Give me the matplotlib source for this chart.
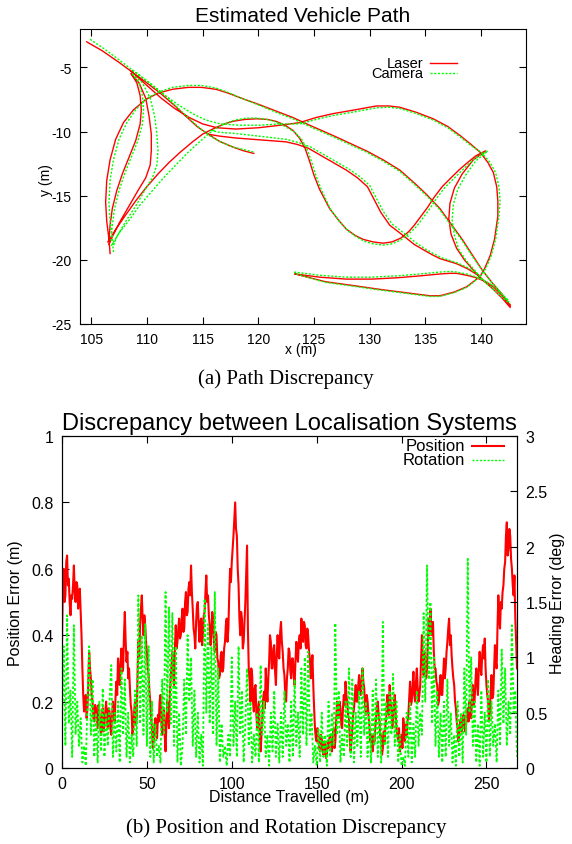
import numpy as np
import matplotlib.pyplot as plt
from matplotlib.lines import Line2D

plt.rcParams['font.family'] = ['Liberation Sans', 'DejaVu Sans']
plt.rcParams['axes.unicode_minus'] = False

nan = float('nan')

# ---- (a) estimated vehicle path, segments split by nan ----
laser_x = [104.6, 106.0, 107.5, 108.6, 110.0, 111.2, 112.4, 113.5, 114.5, 115.5, 116.5, 117.7, 118.7, 119.6, nan,
           108.6, 110.0, 111.3, 112.5, 113.8, 115.0, 116.3, 118.0, 120.0, 122.0, 123.7, 125.2, 126.7, 128.7, 130.6,
           131.7, 132.7, 134.2, 135.7, 137.0, 138.1, 139.1, 139.9, 140.6, 141.1, 141.4, 141.5, 141.5, 141.2, 140.8,
           140.3, 139.9, 139.3, 138.7, 137.6, 136.3, 135.4, 134.5, 132.7, 130.9, 128.5, 126.0, 123.3, nan,
           108.6, 109.1, 109.4, 109.5, 109.4, 109.0, 108.4, 107.8, 107.3, 106.9, 106.7, 106.6, nan,
           108.6, 109.3, 109.9, 110.2, 110.4, 110.4, 110.3, 109.9, 109.2, 108.4, 107.6, 106.9, 106.6, nan,
           106.7, 106.6, 106.4, 106.3, 106.4, 106.7, 107.2, 107.9, 108.8, 109.9, 111.0, 112.3, 113.7, 114.9, 116.2,
           117.3, 118.5, 120.1, 121.6, 123.1, 124.6, 126.7, 128.2, 129.7, 131.2, 132.7, 134.0, 135.1, 136.3, 137.3,
           138.3, 139.2, 140.1, 141.0, 141.9, 142.6, nan,
           106.5, 107.3, 108.1, 109.0, 109.9, 111.0, 112.0, 113.0, 114.1, 115.0, 115.9, 116.8, 117.7, 118.8, 119.9,
           120.8, 121.6, 122.4, 123.1, 123.7, 124.2, 124.6, 125.0, 125.5, 126.4, 127.2, 127.9, 128.7, 129.4, 130.3,
           131.2, 132.0, 132.8, 133.5, 134.0, 134.6, 135.2, 135.8, 136.5, 137.3, 138.0, 138.8, 139.5, 140.4, 139.3,
           138.3, 137.6, 137.2, 137.1, 137.3, 137.8, 138.5, 139.3, 140.2, 141.1, 141.9, 142.6, nan,
           115.5, 116.5, 118.0, 119.5, 121.0, 122.5, 123.5, 124.5, 125.5, 126.7, 127.9, 128.9, 129.8, 130.4, 131.0,
           131.8, 133.0, 134.0, 134.8, 135.6, 136.3, 137.8, 138.8, 139.9, nan,
           123.3, 125.5, 127.9, 130.2, 132.4, 134.5, 136.3, 137.2, 137.8, 138.7, 139.6, 140.4, 141.1, 141.8, 142.6]
laser_y = [-3.0, -3.7, -4.6, -5.3, -6.2, -7.0, -7.9, -8.8, -9.6, -10.2, -10.75, -11.2, -11.5, -11.7, nan,
           -5.3, -6.4, -7.4, -8.2, -8.9, -9.4, -9.7, -9.8, -9.7, -9.5, -9.3, -8.9, -8.6, -8.3, -8.0,
           -8.0, -8.1, -8.5, -9.0, -9.6, -10.3, -11.0, -11.6, -12.4, -13.2, -14.3, -15.4, -16.6, -18.4, -19.7,
           -20.7, -21.3, -21.7, -22.1, -22.5, -22.8, -22.8, -22.7, -22.5, -22.3, -22.0, -21.7, -21.1, nan,
           -5.5, -6.2, -7.2, -8.3, -9.4, -10.7, -12.0, -13.3, -14.6, -16.0, -17.3, -18.5, nan,
           -5.5, -6.2, -7.4, -8.8, -10.2, -11.5, -12.6, -13.6, -14.6, -15.8, -17.0, -18.2, -18.8, nan,
           -19.5, -18.4, -17.0, -15.5, -13.8, -12.2, -10.6, -9.3, -8.3, -7.5, -7.0, -6.7, -6.55, -6.55, -6.7,
           -7.0, -7.4, -7.9, -8.4, -8.9, -9.5, -10.3, -10.9, -11.5, -12.2, -13.0, -14.0, -14.9, -16.0, -17.2,
           -18.4, -19.6, -20.8, -21.8, -22.7, -23.6, nan,
           -18.6, -17.5, -16.5, -15.4, -14.4, -13.3, -12.4, -11.6, -10.8, -10.2, -9.8, -9.45, -9.2, -9.05, -9.0,
           -9.05, -9.2, -9.5, -9.9, -10.5, -11.3, -12.3, -13.4, -14.5, -16.0, -16.9, -17.6, -18.1, -18.4, -18.6,
           -18.7, -18.6, -18.3, -17.8, -17.3, -16.6, -15.9, -15.1, -14.3, -13.6, -13.0, -12.4, -11.9, -11.5, -12.2,
           -13.3, -14.4, -15.6, -16.8, -18.0, -19.1, -20.0, -20.8, -21.6, -22.3, -23.0, -23.7, nan,
           -10.2, -10.35, -10.5, -10.6, -10.7, -10.8, -11.0, -11.3, -11.8, -12.4, -13.0, -13.6, -14.3, -15.3, -16.3,
           -17.3, -18.1, -18.8, -19.2, -19.6, -19.9, -20.3, -20.7, -21.3, nan,
           -21.1, -21.35, -21.5, -21.5, -21.4, -21.25, -21.1, -21.05, -21.05, -21.2, -21.4, -21.7, -22.1, -22.7, -23.5]

camera_x = [104.9, 106.1, 107.5, 108.7, 110.1, 111.4, 112.6, 113.7, 114.7, 115.6, 116.6, 117.7, 118.7, 119.6, nan,
            108.7, 110.2, 111.5, 112.8, 114.1, 115.3, 116.6, 118.2, 120.1, 122.0, 123.7, 125.2, 126.7, 128.7, 130.6,
            131.7, 132.7, 134.2, 135.7, 137.0, 138.1, 139.1, 140.0, 140.8, 141.3, 141.6, 141.7, 141.6, 141.3, 140.9,
            140.4, 139.9, 139.3, 138.7, 137.6, 136.3, 135.4, 134.5, 132.7, 130.9, 128.5, 126.0, 123.2, nan,
            108.7, 109.3, 109.6, 109.7, 109.6, 109.2, 108.6, 108.0, 107.5, 107.1, 106.9, 106.8, nan,
            108.7, 109.6, 110.3, 110.7, 110.9, 111.0, 110.9, 110.5, 109.8, 109.0, 108.1, 107.3, 107.0, nan,
            107.0, 106.9, 106.7, 106.6, 106.7, 107.0, 107.5, 108.2, 109.0, 110.0, 111.1, 112.3, 113.7, 114.9, 116.2,
            117.3, 118.5, 120.1, 121.6, 123.1, 124.6, 126.7, 128.2, 129.7, 131.2, 132.7, 134.0, 135.1, 136.3, 137.3,
            138.3, 139.2, 140.1, 141.0, 141.8, 142.5, nan,
            106.8, 107.6, 108.5, 109.4, 110.4, 111.5, 112.6, 113.6, 114.6, 115.5, 116.3, 117.1, 117.9, 118.9, 119.9,
            120.8, 121.6, 122.4, 123.2, 123.9, 124.4, 124.8, 125.2, 125.7, 126.5, 127.3, 128.0, 128.8, 129.5, 130.3,
            131.2, 132.0, 132.8, 133.6, 134.2, 134.8, 135.4, 136.0, 136.7, 137.5, 138.2, 138.9, 139.6, 140.6, 139.5,
            138.6, 137.9, 137.5, 137.4, 137.6, 138.0, 138.7, 139.5, 140.3, 141.2, 142.0, 142.6, nan,
            115.7, 116.5, 118.0, 119.5, 121.0, 122.5, 123.6, 124.7, 125.7, 126.9, 128.1, 129.1, 130.0, 130.6, 131.2,
            132.0, 133.2, 134.2, 135.0, 135.8, 136.5, 137.9, 138.9, 139.9, nan,
            123.2, 125.5, 127.9, 130.2, 132.4, 134.5, 136.3, 137.2, 137.8, 138.7, 139.6, 140.4, 141.1, 141.8, 142.5]
camera_y = [-2.8, -3.5, -4.4, -5.2, -6.1, -7.0, -8.0, -8.9, -9.7, -10.3, -10.8, -11.2, -11.4, -11.6, nan,
            -5.2, -6.2, -7.1, -7.9, -8.6, -9.1, -9.4, -9.5, -9.5, -9.4, -9.4, -9.05, -8.75, -8.45, -8.15,
            -8.1, -8.2, -8.6, -9.1, -9.7, -10.4, -11.1, -11.6, -12.4, -13.2, -14.3, -15.4, -16.6, -18.4, -19.7,
            -20.7, -21.3, -21.75, -22.15, -22.55, -22.85, -22.85, -22.75, -22.55, -22.35, -22.05, -21.75, -21.05, nan,
            -5.5, -6.2, -7.2, -8.3, -9.4, -10.7, -12.0, -13.3, -14.6, -16.0, -17.3, -18.5, nan,
            -5.5, -6.2, -7.4, -8.8, -10.2, -11.5, -12.6, -13.6, -14.6, -15.8, -17.0, -18.2, -18.9, nan,
            -19.4, -18.4, -17.0, -15.5, -13.8, -12.2, -10.6, -9.3, -8.3, -7.4, -6.9, -6.55, -6.4, -6.4, -6.6,
            -6.95, -7.4, -7.95, -8.5, -9.0, -9.6, -10.4, -11.0, -11.6, -12.3, -13.1, -14.1, -15.0, -16.1, -17.3,
            -18.5, -19.7, -20.8, -21.8, -22.6, -23.3, nan,
            -18.9, -17.8, -16.8, -15.7, -14.7, -13.6, -12.6, -11.7, -10.9, -10.2, -9.7, -9.35, -9.1, -8.95, -8.95,
            -9.05, -9.25, -9.6, -10.0, -10.6, -11.4, -12.4, -13.5, -14.6, -16.1, -17.0, -17.7, -18.2, -18.55, -18.75,
            -18.85, -18.75, -18.45, -17.9, -17.4, -16.7, -16.0, -15.2, -14.4, -13.7, -13.1, -12.5, -12.0, -11.5, -12.3,
            -13.4, -14.5, -15.7, -16.9, -18.1, -19.2, -20.1, -20.9, -21.7, -22.4, -23.0, -23.4, nan,
            -9.9, -10.05, -10.15, -10.3, -10.45, -10.6, -10.85, -11.2, -11.7, -12.3, -12.9, -13.5, -14.2, -15.2, -16.2,
            -17.2, -18.0, -18.7, -19.15, -19.55, -19.85, -20.25, -20.65, -21.25, nan,
            -20.95, -21.2, -21.35, -21.35, -21.25, -21.1, -20.95, -20.9, -20.95, -21.1, -21.35, -21.65, -22.05, -22.6, -23.2]

# ---- (b) discrepancy ----
# position error (m), one value every 0.5 m travelled
position_err = [
    0.38, 0.55, 0.6, 0.5, 0.52, 0.62, 0.64, 0.55, 0.57, 0.5, 0.46, 0.52, 0.51, 0.55, 0.61, 0.53, 0.5, 0.56, 0.55, 0.48,
    0.52, 0.54, 0.47, 0.4, 0.3, 0.22, 0.17, 0.2, 0.22, 0.15, 0.18, 0.26, 0.35, 0.3, 0.27, 0.22, 0.2, 0.15, 0.14, 0.19,
    0.18, 0.15, 0.12, 0.19, 0.17, 0.13, 0.1, 0.15, 0.18, 0.11, 0.13, 0.17, 0.2, 0.14, 0.12, 0.18, 0.17, 0.12, 0.1, 0.16,
    0.2, 0.16, 0.14, 0.21, 0.26, 0.22, 0.33, 0.28, 0.25, 0.32, 0.36, 0.29, 0.3, 0.4, 0.47, 0.38, 0.32, 0.35, 0.27, 0.3,
    0.24, 0.19, 0.17, 0.1, 0.12, 0.17, 0.2, 0.13, 0.15, 0.28, 0.38, 0.33, 0.43, 0.48, 0.52, 0.45, 0.4, 0.46, 0.43, 0.38,
    0.35, 0.3, 0.28, 0.23, 0.2, 0.15, 0.12, 0.06, 0.08, 0.13, 0.15, 0.1, 0.09, 0.16, 0.14, 0.2, 0.22, 0.14, 0.1, 0.15,
    0.18, 0.1, 0.05, 0.14, 0.2, 0.15, 0.12, 0.22, 0.27, 0.31, 0.35, 0.28, 0.25, 0.36, 0.43, 0.36, 0.38, 0.42, 0.45, 0.39,
    0.4, 0.45, 0.48, 0.41, 0.42, 0.5, 0.53, 0.46, 0.47, 0.54, 0.56, 0.52, 0.61, 0.53, 0.48, 0.42, 0.4, 0.36, 0.44, 0.49,
    0.5, 0.43, 0.38, 0.44, 0.45, 0.37, 0.4, 0.46, 0.47, 0.53, 0.58, 0.5, 0.52, 0.46, 0.43, 0.37, 0.4, 0.47, 0.45, 0.38,
    0.35, 0.41, 0.4, 0.33, 0.32, 0.27, 0.28, 0.34, 0.35, 0.29, 0.3, 0.36, 0.38, 0.43, 0.45, 0.38, 0.42, 0.52, 0.6, 0.56,
    0.62, 0.66, 0.7, 0.75, 0.8, 0.72, 0.7, 0.6, 0.55, 0.45, 0.4, 0.47, 0.45, 0.36, 0.38, 0.44, 0.5, 0.58, 0.67, 0.42,
    0.3, 0.26, 0.2, 0.3, 0.28, 0.2, 0.17, 0.24, 0.25, 0.16, 0.12, 0.18, 0.2, 0.1, 0.05, 0.1, 0.15, 0.21, 0.23, 0.18,
    0.3, 0.24, 0.2, 0.27, 0.32, 0.4, 0.38, 0.3, 0.3, 0.36, 0.37, 0.29, 0.25, 0.34, 0.4, 0.34, 0.33, 0.41, 0.44, 0.38,
    0.35, 0.3, 0.28, 0.22, 0.2, 0.27, 0.3, 0.36, 0.35, 0.29, 0.27, 0.33, 0.33, 0.28, 0.25, 0.32, 0.38, 0.34, 0.32, 0.38,
    0.4, 0.36, 0.45, 0.4, 0.38, 0.44, 0.43, 0.37, 0.36, 0.42, 0.4, 0.35, 0.33, 0.27, 0.3, 0.34, 0.25, 0.18, 0.12, 0.09,
    0.08, 0.12, 0.1, 0.06, 0.05, 0.1, 0.09, 0.05, 0.04, 0.08, 0.07, 0.03, 0.04, 0.08, 0.06, 0.09, 0.1, 0.07, 0.05, 0.09,
    0.12, 0.06, 0.08, 0.14, 0.2, 0.17, 0.15, 0.2, 0.18, 0.13, 0.12, 0.18, 0.22, 0.19, 0.26, 0.22, 0.2, 0.16, 0.15, 0.09,
    0.05, 0.08, 0.12, 0.16, 0.18, 0.22, 0.25, 0.2, 0.2, 0.25, 0.28, 0.23, 0.22, 0.27, 0.3, 0.26, 0.24, 0.19, 0.16, 0.22,
    0.2, 0.16, 0.13, 0.08, 0.1, 0.06, 0.05, 0.1, 0.08, 0.12, 0.15, 0.19, 0.2, 0.16, 0.14, 0.09, 0.1, 0.04, 0.06, 0.11,
    0.08, 0.13, 0.15, 0.22, 0.2, 0.16, 0.25, 0.2, 0.18, 0.12, 0.14, 0.2, 0.22, 0.17, 0.12, 0.1, 0.08, 0.12, 0.05, 0.09,
    0.1, 0.06, 0.15, 0.12, 0.08, 0.13, 0.1, 0.14, 0.16, 0.21, 0.26, 0.19, 0.2, 0.25, 0.29, 0.22, 0.2, 0.26, 0.3, 0.24,
    0.2, 0.22, 0.25, 0.33, 0.4, 0.32, 0.28, 0.35, 0.33, 0.27, 0.3, 0.38, 0.45, 0.4, 0.48, 0.42, 0.4, 0.44, 0.35, 0.3,
    0.3, 0.26, 0.25, 0.19, 0.2, 0.25, 0.28, 0.22, 0.22, 0.28, 0.33, 0.27, 0.3, 0.35, 0.38, 0.42, 0.45, 0.37, 0.4, 0.34,
    0.3, 0.27, 0.25, 0.2, 0.18, 0.14, 0.12, 0.08, 0.1, 0.14, 0.15, 0.11, 0.12, 0.16, 0.14, 0.11, 0.13, 0.16, 0.18, 0.14,
    0.2, 0.16, 0.15, 0.21, 0.25, 0.19, 0.2, 0.26, 0.3, 0.25, 0.22, 0.3, 0.35, 0.3, 0.28, 0.34, 0.37, 0.33, 0.39, 0.3,
    0.25, 0.22, 0.2, 0.14, 0.17, 0.23, 0.28, 0.21, 0.22, 0.3, 0.37, 0.32, 0.3, 0.42, 0.52, 0.45, 0.42, 0.5, 0.48, 0.53,
    0.55, 0.6, 0.62, 0.7, 0.74, 0.64, 0.66, 0.72, 0.7, 0.63, 0.6, 0.55, 0.52, 0.58, 0.45, 0.38, 0.3]

# heading error (deg), one value per metre travelled
rotation_err = [
    0.3, 1.1, 0.2, 1.38, 0.4, 0.7, 0.1, 1.29, 0.3, 0.6,
    0.2, 0.45, 0.05, 0.2, 0.02, 0.6, 1.1, 0.3, 0.8, 0.1,
    0.5, 0.05, 0.6, 0.15, 0.72, 0.1, 0.5, 0.2, 0.6, 0.93,
    0.1, 0.5, 0.15, 0.6, 0.05, 0.9, 0.3, 0.8, 0.1, 0.5,
    0.05, 0.3, 0.1, 0.7, 0.2, 1.56, 0.4, 1.2, 0.3, 1.3,
    0.2, 1.1, 0.1, 0.6, 0.05, 0.4, 0.1, 0.2, 0.05, 0.8,
    0.3, 1.59, 0.5, 1.45, 0.4, 1.4, 0.2, 1.1, 0.05, 0.5,
    0.02, 0.2, 0.8, 0.3, 1.2, 0.6, 1.0, 0.2, 0.7, 0.1,
    0.5, 0.05, 0.3, 0.02, 1.53, 0.5, 1.3, 0.4, 1.1, 0.3,
    1.59, 0.2, 0.9, 0.05, 0.4, 0.1, 0.2, 0.02, 0.3, 0.1,
    1.0, 0.2, 0.6, 0.1, 1.1, 0.3, 0.7, 0.05, 0.4, 0.9,
    0.2, 0.6, 0.05, 0.3, 0.1, 0.5, 0.05, 0.93, 0.3, 0.6,
    0.1, 0.3, 0.02, 0.5, 0.15, 0.7, 0.1, 0.4, 0.05, 0.5,
    0.1, 0.7, 0.2, 0.4, 0.05, 0.6, 0.1, 0.8, 0.2, 0.5,
    0.1, 0.9, 0.3, 1.0, 0.2, 1.05, 0.3, 0.5, 0.05, 0.2,
    0.02, 0.35, 0.05, 0.5, 0.1, 0.3, 0.02, 0.6, 0.1, 0.5,
    0.2, 1.31, 0.3, 0.7, 0.05, 0.3, 0.1, 0.6, 0.2, 0.9,
    0.1, 0.8, 0.05, 0.5, 0.2, 0.7, 0.1, 0.9, 0.3, 0.6,
    0.1, 0.5, 0.05, 0.7, 0.2, 0.8, 0.1, 0.5, 0.05, 1.32,
    0.2, 0.6, 0.1, 0.7, 0.3, 0.85, 0.2, 0.6, 0.05, 0.3,
    0.02, 0.1, 0.02, 0.5, 0.1, 0.6, 0.05, 0.4, 0.1, 0.7,
    0.2, 0.5, 0.3, 1.4, 0.6, 1.83, 0.8, 1.5, 0.4, 1.0,
    0.2, 0.7, 0.1, 0.5, 0.05, 0.6, 0.1, 0.8, 0.2, 0.5,
    0.05, 0.3, 0.02, 0.6, 0.1, 0.5, 0.05, 0.9, 0.3, 1.89,
    0.5, 1.0, 0.2, 0.6, 0.05, 0.4, 0.02, 0.7, 0.1, 0.5,
    0.05, 0.8, 0.1, 0.6, 0.2, 0.4, 0.05, 0.7, 0.2, 1.07,
    0.4, 0.9, 0.2, 0.6, 0.3, 1.29, 0.5, 0.7, 0.1]

pos_distance = np.arange(len(position_err)) * 0.5
rot_distance = np.arange(len(rotation_err))

RED = '#ff0000'
GREEN = '#00ff00'
DOTS = (0, (1.5, 1.2))


def key(ax, entries, x, y, dy, gap, length, size):
    # gnuplot style key: label flush right, sample line after it
    for i, (label, style) in enumerate(entries):
        yy = y - i * dy
        ax.text(x, yy, label, transform=ax.transAxes, ha='right', va='center', fontsize=size)
        ax.add_line(Line2D([x + gap, x + gap + length], [yy, yy], transform=ax.transAxes, **style))


fig = plt.figure(figsize=(5.72, 8.45), dpi=100)

# --- top: path ---
laser_style = dict(color=RED, lw=1.0)
camera_style = dict(color=GREEN, lw=1.0, ls=DOTS)
ax = fig.add_axes([80 / 572, 1 - 325 / 845, 445.7 / 572, 295 / 845])
ax.plot(laser_x, laser_y, **laser_style)
ax.plot(camera_x, camera_y, **camera_style)
ax.set_xlim(104, 144)
ax.set_ylim(-25, -2)
ax.set_xticks(range(105, 141, 5))
ax.set_yticks(range(-25, -4, 5))
ax.tick_params(direction='in', length=5, top=True, right=True, labelsize=10, pad=6)
ax.set_title('Estimated Vehicle Path', fontsize=15, pad=6)
ax.set_xlabel('x (m)', fontsize=10)
ax.set_ylabel('y (m)', fontsize=10)
ax.xaxis.set_label_coords(0.495, -0.062)
ax.yaxis.set_label_coords(-0.061, 0.49)
key(ax, [('Laser', laser_style), ('Camera', camera_style)],
    0.7696, 0.885, 0.034, 0.0157, 0.0606, 10.5)

# --- bottom: discrepancy ---
bx = fig.add_axes([62 / 572, 76 / 845, 455 / 572, 332 / 845])
bx.plot(pos_distance, position_err, color=RED, lw=1.5)
bx.set_xlim(0, 268)
bx.set_ylim(0, 1)
bx.set_xticks(range(0, 251, 50))
bx.set_yticks([0, 0.2, 0.4, 0.6, 0.8, 1])
bx.set_yticklabels(['0', '0.2', '0.4', '0.6', '0.8', '1'])
bx.tick_params(direction='in', length=5, top=True, right=True, labelsize=11.5, pad=6)
bx.set_xlabel('Distance Travelled (m)', fontsize=11.5)
bx.set_ylabel('Position Error (m)', fontsize=11.5)
bx.xaxis.set_label_coords(0.5, -0.062)
bx.yaxis.set_label_coords(-0.086, 0.5)
bx.set_title('Discrepancy between Localisation Systems', fontsize=17, pad=5)

bx2 = bx.twinx()
bx2.plot(rot_distance, rotation_err, color=GREEN, lw=1.3, ls=DOTS)
bx2.set_ylim(0, 3)
bx2.set_yticks([0, 0.5, 1, 1.5, 2, 2.5, 3])
bx2.set_yticklabels(['0', '0.5', '1', '1.5', '2', '2.5', '3'])
bx2.tick_params(direction='in', length=5, labelsize=11.5, pad=6)
bx2.set_ylabel('Heading Error (deg)', fontsize=11.5)
bx2.yaxis.set_label_coords(1.073, 0.5)
key(bx2, [('Position', dict(color=RED, lw=1.5)), ('Rotation', dict(color=GREEN, lw=1.0, ls=DOTS))],
    0.886, 0.970, 0.042, 0.0154, 0.070, 12)

fig.text(0.5, 1 - 379 / 845, '(a) Path Discrepancy', ha='center', va='center',
         family='Liberation Serif', fontsize=15)
fig.text(0.5, 1 - 828 / 845, '(b) Position and Rotation Discrepancy', ha='center', va='center',
         family='Liberation Serif', fontsize=15)

fig.savefig('out.png', dpi=100)
